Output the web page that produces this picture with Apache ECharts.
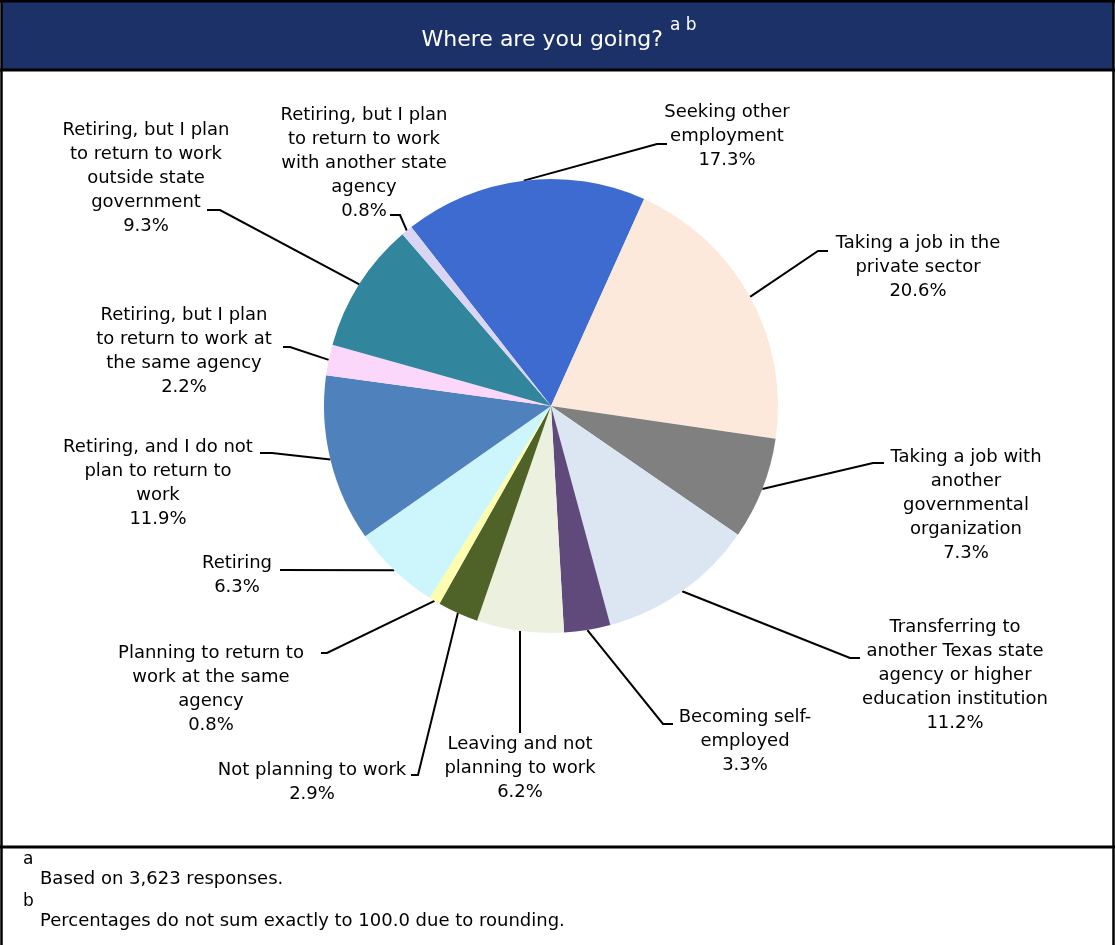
<!DOCTYPE html>
<html>
<head>
<meta charset="utf-8">
<title>Where are you going?</title>
<script src="https://cdn.jsdelivr.net/npm/echarts@6/dist/echarts.min.js"></script>
<style>
  html, body { margin: 0; padding: 0; background: #ffffff; }
  #chart { width: 1115px; height: 945px; }
</style>
</head>
<body>
<div id="chart"></div>
<script>
// Survey responses: where departing employees are going (percent of responses)
const categories = [
  'Seeking other\nemployment',
  'Taking a job in the\nprivate sector',
  'Taking a job with\nanother\ngovernmental\norganization',
  'Transferring to\nanother Texas state\nagency or higher\neducation institution',
  'Becoming self-\nemployed',
  'Leaving and not\nplanning to work',
  'Not planning to work',
  'Planning to return to\nwork at the same\nagency',
  'Retiring',
  'Retiring, and I do not\nplan to return to\nwork',
  'Retiring, but I plan\nto return to work at\nthe same agency',
  'Retiring, but I plan\nto return to work\noutside state\ngovernment',
  'Retiring, but I plan\nto return to work\nwith another state\nagency'
];
const shares = [17.3, 20.6, 7.3, 11.2, 3.3, 6.2, 2.9, 0.8, 6.3, 11.9, 2.2, 9.3, 0.8];

const titleText = 'Where are you going?';
const titleNotes = 'a b';
const footnotes = [
  { mark: 'a', text: 'Based on 3,623 responses.' },
  { mark: 'b', text: 'Percentages do not sum exactly to 100.0 due to rounding.' }
];

// Slice fills, in the same order as the categories
const sliceColors = [
  '#3d6bcf', '#fde9db', '#808080', '#dce6f2', '#604a7b', '#ebf1de', '#4f6228',
  '#fdfdb0', '#ccf6fc', '#4f81bd', '#fbd7fb', '#31859c', '#d9d5f2'
];

// Pie geometry
const PIE_CX = 551, PIE_CY = 406, PIE_R = 227, START_ANGLE = 128;

// Where each label block sits (centre x, top y) and the elbow of its leader line
const labelSpots = [
  { x: 727, top: 100, path: [[657, 144], [667, 144]] },
  { x: 918, top: 231, path: [[818, 251], [828, 251]] },
  { x: 966, top: 445, path: [[873, 463], [884, 463]] },
  { x: 955, top: 615, path: [[850, 658], [860, 658]] },
  { x: 745, top: 705, path: [[663, 724], [673, 724]] },
  { x: 520, top: 732, path: [[520, 733]] },
  { x: 312, top: 758, path: [[418, 775], [411, 775]] },
  { x: 211, top: 641, path: [[327, 653], [321, 653]] },
  { x: 237, top: 551, path: [[280, 570]] },
  { x: 158, top: 435, path: [[272, 453], [260, 453]] },
  { x: 184, top: 303, path: [[290, 347], [283, 347]] },
  { x: 146, top: 118, path: [[220, 210], [207, 210]] },
  { x: 364, top: 103, path: [[400, 215], [390, 215]] }
];

const LABEL_FONT = '"DejaVu Sans", Verdana, sans-serif';

// Point on the rim of slice i, at the middle of its arc
function sliceEdgePoint(i) {
  const total = shares.reduce((a, b) => a + b, 0);
  let before = 0;
  for (let k = 0; k < i; k++) before += shares[k];
  const a = (START_ANGLE - (before + shares[i] / 2) / total * 360) * Math.PI / 180;
  return [PIE_CX + PIE_R * Math.cos(a), PIE_CY - PIE_R * Math.sin(a)];
}

const chart = echarts.init(document.getElementById('chart'), null, { renderer: 'canvas' });

const option = {
  animation: false,
  backgroundColor: '#ffffff',
  graphic: [
    // title band
    { type: 'rect', z: 0, shape: { x: 2, y: 2, width: 1111, height: 67 }, style: { fill: '#1b3168' }, silent: true },
    // frame lines
    { type: 'line', z: 5, shape: { x1: 0, y1: 1, x2: 1115, y2: 1 }, style: { stroke: '#000', lineWidth: 3 }, silent: true },
    { type: 'line', z: 5, shape: { x1: 1.5, y1: 0, x2: 1.5, y2: 945 }, style: { stroke: '#000', lineWidth: 2.5 }, silent: true },
    { type: 'line', z: 5, shape: { x1: 1113.5, y1: 0, x2: 1113.5, y2: 945 }, style: { stroke: '#000', lineWidth: 2.5 }, silent: true },
    { type: 'line', z: 5, shape: { x1: 0, y1: 70, x2: 1115, y2: 70 }, style: { stroke: '#000', lineWidth: 3 }, silent: true },
    { type: 'line', z: 5, shape: { x1: 0, y1: 847, x2: 1115, y2: 847 }, style: { stroke: '#000', lineWidth: 3 }, silent: true },
    // title
    { type: 'text', z: 6, x: 663, y: 40, style: { text: titleText, fill: '#ffffff', font: '22px ' + LABEL_FONT, textAlign: 'right', textVerticalAlign: 'middle' }, silent: true },
    { type: 'text', z: 6, x: 670, y: 26, style: { text: titleNotes, fill: '#ffffff', font: '17px ' + LABEL_FONT, textAlign: 'left', textVerticalAlign: 'middle' }, silent: true },
    // footnotes
    { type: 'text', z: 6, x: 23, y: 860, style: { text: footnotes[0].mark, fill: '#000', font: '17px ' + LABEL_FONT, textAlign: 'left', textVerticalAlign: 'middle' }, silent: true },
    { type: 'text', z: 6, x: 40, y: 879, style: { text: footnotes[0].text, fill: '#000', font: '18px ' + LABEL_FONT, textAlign: 'left', textVerticalAlign: 'middle' }, silent: true },
    { type: 'text', z: 6, x: 23, y: 902, style: { text: footnotes[1].mark, fill: '#000', font: '17px ' + LABEL_FONT, textAlign: 'left', textVerticalAlign: 'middle' }, silent: true },
    { type: 'text', z: 6, x: 40, y: 921, style: { text: footnotes[1].text, fill: '#000', font: '18px ' + LABEL_FONT, textAlign: 'left', textVerticalAlign: 'middle' }, silent: true }
  ],
  series: [{
    type: 'pie',
    center: [PIE_CX, PIE_CY],
    radius: [0, PIE_R],
    startAngle: START_ANGLE,
    clockwise: true,
    avoidLabelOverlap: false,
    silent: true,
    emphasis: { disabled: true },
    itemStyle: { borderWidth: 0 },
    label: {
      show: true,
      position: 'outside',
      color: '#000',
      fontFamily: LABEL_FONT,
      fontSize: 18,
      lineHeight: 24,
      align: 'center',
      width: 260,
      overflow: 'none',
      formatter: p => p.name + '\n' + p.value.toFixed(1) + '%'
    },
    labelLine: {
      show: true,
      length: 10,
      length2: 10,
      smooth: false,
      lineStyle: { color: '#000', width: 2 }
    },
    labelLayout: function (params) {
      const spot = labelSpots[params.dataIndex];
      const start = sliceEdgePoint(params.dataIndex);
      return {
        x: spot.x,
        y: spot.top,
        align: 'center',
        verticalAlign: 'top',
        labelLinePoints: [start].concat(spot.path)
      };
    },
    data: categories.map((name, i) => ({
      name: name,
      value: shares[i],
      itemStyle: { color: sliceColors[i] }
    }))
  }]
};

chart.setOption(option);
</script>
</body>
</html>
